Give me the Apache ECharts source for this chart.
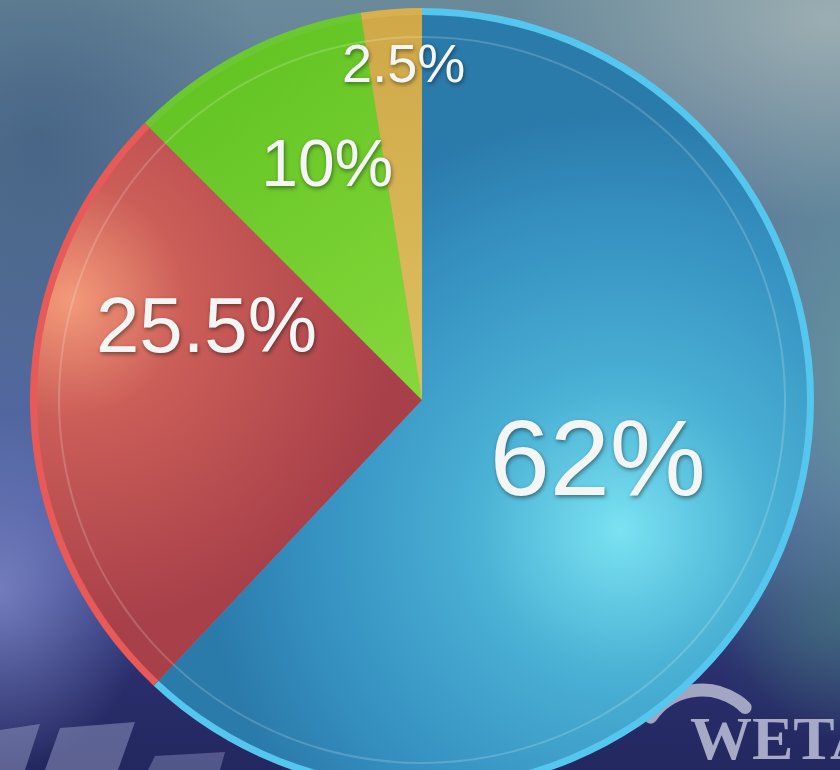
<!DOCTYPE html>
<html>
<head>
<meta charset="utf-8">
<script src="https://cdn.jsdelivr.net/npm/echarts@6/dist/echarts.min.js"></script>
<style>
  html, body { margin: 0; padding: 0; width: 840px; height: 770px; overflow: hidden; }
  body {
    background:
      radial-gradient(ellipse 320px 200px at 830px 20px, rgba(172,186,186,0.75), rgba(172,186,186,0) 100%),
      radial-gradient(ellipse 150px 180px at 0px 590px, rgba(125,135,198,0.85), rgba(125,135,198,0) 100%),
      radial-gradient(ellipse 240px 260px at 40px 140px, rgba(55,85,122,0.6), rgba(55,85,122,0) 100%),
      radial-gradient(ellipse 200px 360px at 860px 380px, rgba(102,150,158,0.95), rgba(102,150,158,0) 100%),
      radial-gradient(ellipse 140px 120px at 840px 620px, rgba(50,90,110,0.8), rgba(50,90,110,0) 100%),
      linear-gradient(to bottom, rgba(38,42,100,0) 0%, rgba(38,42,100,0) 74%, rgba(40,44,104,0.85) 88%, rgba(36,40,96,1) 100%),
      linear-gradient(to bottom, #6a8a9a 0%, #5a7598 30%, #4e62a0 60%, #3c4690 78%, #2a3070 100%);
  }
  #chart { width: 840px; height: 770px; }
</style>
</head>
<body>
<div id="chart"></div>
<script>
// ---- data ----
var categories = ['Blue', 'Red', 'Green', 'Yellow'];
var values = [62, 25.5, 10, 2.5];
var labels = ['62%', '25.5%', '10%', '2.5%'];

// ---- styles ----
var sliceColors = [
  { type: 'radial', x: 620, y: 530, r: 420, global: true,
    colorStops: [{ offset: 0, color: '#7ae2f2' }, { offset: 0.35, color: '#4ab0d4' }, { offset: 0.75, color: '#3590c0' }, { offset: 1, color: '#2a7aaa' }] },
  { type: 'radial', x: 70, y: 300, r: 330, global: true,
    colorStops: [{ offset: 0, color: '#f39a7a' }, { offset: 0.35, color: '#cc5e58' }, { offset: 1, color: '#a8404a' }] },
  { type: 'linear', x: 0, y: 0, x2: 1, y2: 1,
    colorStops: [{ offset: 0, color: '#5cc020' }, { offset: 1, color: '#86d83a' }] },
  { type: 'linear', x: 0, y: 0, x2: 0, y2: 1,
    colorStops: [{ offset: 0, color: '#d0a848' }, { offset: 1, color: '#dcc060' }] }
];
var rimColors = ['#55c6ee', '#e85a58', '#6cc830', '#d8b050'];
var fontSizes = [108, 78, 66, 54];
var labelShift = [[-6, -7], [-20, -73], [-6, -58], [-3, -138]];

var chart = echarts.init(document.getElementById('chart'));
var pieCenter = [422, 400];
var R = 392;

var mainData = categories.map(function (c, i) {
  return {
    name: c, value: values[i],
    itemStyle: { color: sliceColors[i] },
    label: { fontSize: fontSizes[i] }
  };
});
var rimData = categories.map(function (c, i) {
  return { name: c, value: values[i], itemStyle: { color: rimColors[i] } };
});
var lineData = categories.map(function (c, i) {
  return { name: c, value: values[i] };
});

chart.setOption({
  backgroundColor: 'transparent',
  animation: false,
  graphic: [
    { type: 'polygon', silent: true, shape: { points: [[0, 730], [40, 724], [25, 770], [0, 770]] }, style: { fill: 'rgba(140,145,190,0.55)' } },
    { type: 'polygon', silent: true, shape: { points: [[60, 728], [135, 722], [118, 770], [45, 770]] }, style: { fill: 'rgba(140,145,190,0.55)' } },
    { type: 'polygon', silent: true, shape: { points: [[155, 756], [225, 752], [220, 770], [148, 770]] }, style: { fill: 'rgba(140,145,190,0.45)' } },
    { type: 'arc', silent: true, shape: { cx: 702, cy: 752, r: 62, startAngle: Math.PI * 1.19, endAngle: Math.PI * 1.745 },
      style: { stroke: '#a2a6c2', lineWidth: 13, fill: null, lineCap: 'round' } },
    { type: 'text', silent: true, left: 690, top: 712,
      style: { text: 'WETA', font: 'bold 62px "Liberation Serif", serif', fill: '#a6aac6' } }
  ],
  series: [
    {
      type: 'pie',
      silent: true,
      center: pieCenter,
      radius: [0, R],
      startAngle: 90,
      clockwise: true,
      data: rimData,
      label: { show: false },
      labelLine: { show: false },
      itemStyle: { borderWidth: 0 }
    },
    {
      type: 'pie',
      silent: true,
      center: pieCenter,
      radius: [0, R - 7],
      startAngle: 90,
      clockwise: true,
      data: mainData,
      itemStyle: { borderWidth: 0 },
      label: {
        show: true,
        position: 'inside',
        formatter: function (p) { return labels[p.dataIndex]; },
        color: '#f4f6f6',
        fontFamily: '"Liberation Sans", Arial, sans-serif',
        fontWeight: 'normal',
        textShadowColor: 'rgba(0,0,0,0.45)',
        textShadowBlur: 4,
        textShadowOffsetX: 1,
        textShadowOffsetY: 2
      },
      labelLine: { show: false },
      labelLayout: function (p) {
        var s = labelShift[p.dataIndex];
        return { dx: s[0], dy: s[1] };
      }
    },
    {
      type: 'pie',
      silent: true,
      center: pieCenter,
      radius: [R - 30, R - 28],
      startAngle: 90,
      clockwise: true,
      data: lineData,
      label: { show: false },
      labelLine: { show: false },
      itemStyle: { color: 'rgba(255,255,255,0.18)', borderWidth: 0 }
    }
  ]
});
</script>
</body>
</html>
